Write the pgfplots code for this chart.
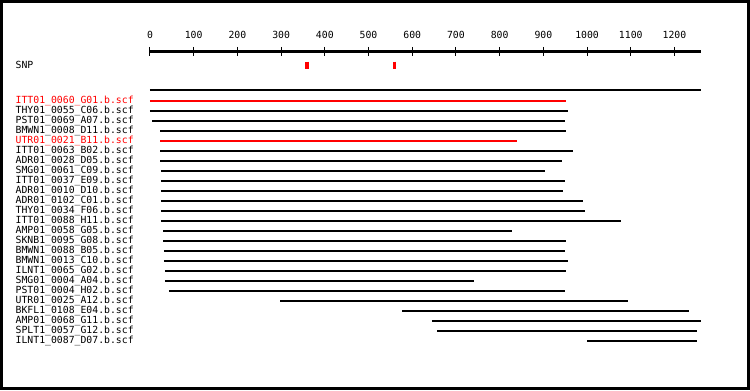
\documentclass[border=0pt]{standalone}
\usepackage{fontspec}
\setmainfont{DejaVu Sans Mono}
\usepackage{pgfplots}
\pgfplotsset{compat=1.18}
\begin{document}
\begin{tikzpicture}
\begin{axis}[
  scale only axis,
  width=550.7pt, height=336.5pt,
  xmin=0, xmax=1260,
  ymin=-388, ymax=-51.5,
  clip=false,
  axis x line*=top,
  axis y line*=left,
  x axis line style={line width=3pt,-},
  y axis line style={draw=none},
  xtick={0,100,200,300,400,500,600,700,800,900,1000,1100,1200},
  xticklabels={0,100,200,300,400,500,600,700,800,900,1000,1100,1200},
  major tick length=9pt,
  tick align=center,
  x tick style={line width=1pt,black},
  y tick style={draw=none},
  xticklabel style={anchor=base, inner sep=0pt, yshift=8.8pt},
  ytick={-66.4,-101,-111,-121,-131,-141,-151,-161,-171,-181,-191,-201,-211,-221,-231,-241,-251,-261,-271,-281,-291,-301,-311,-321,-331,-341},
  yticklabels={SNP,{\color{red}ITT01\_0060\_G01.b.scf},THY01\_0055\_C06.b.scf,PST01\_0069\_A07.b.scf,BMWN1\_0008\_D11.b.scf,{\color{red}UTR01\_0021\_B11.b.scf},ITT01\_0063\_B02.b.scf,ADR01\_0028\_D05.b.scf,SMG01\_0061\_C09.b.scf,ITT01\_0037\_E09.b.scf,ADR01\_0010\_D10.b.scf,ADR01\_0102\_C01.b.scf,THY01\_0034\_F06.b.scf,ITT01\_0088\_H11.b.scf,AMP01\_0058\_G05.b.scf,SKNB1\_0095\_G08.b.scf,BMWN1\_0088\_B05.b.scf,BMWN1\_0013\_C10.b.scf,ILNT1\_0065\_G02.b.scf,SMG01\_0004\_A04.b.scf,PST01\_0004\_H02.b.scf,UTR01\_0025\_A12.b.scf,BKFL1\_0108\_E04.b.scf,AMP01\_0068\_G11.b.scf,SPLT1\_0057\_G12.b.scf,ILNT1\_0087\_D07.b.scf},
  yticklabel style={anchor=base west, inner sep=0pt, xshift=-130pt, yshift=-2.3pt},
  ticklabel style={font=\fontsize{9.8}{11}\selectfont},
  /pgf/number format/assume math mode=true,
]
% frame
\draw[line width=2.6pt] (axis cs:-340.2,-1.3) rectangle (axis cs:1369.8,-388.7);
% SNP markers
\addplot[red, line width=4pt] coordinates {(359.4,-61.7) (359.4,-68.7)};
\addplot[red, line width=3pt] coordinates {(559.6,-61.7) (559.6,-68.7)};
% separator
\addplot[black, line width=1.2pt] coordinates {(0,-90) (1260,-90)};
% reads
\addplot[red, line width=2pt] coordinates {(0,-101) (952,-101)};
\addplot[black, line width=2pt] coordinates {(0,-111) (957,-111)};
\addplot[black, line width=2pt] coordinates {(5,-121) (950,-121)};
\addplot[black, line width=2pt] coordinates {(24,-131) (952,-131)};
\addplot[red, line width=2pt] coordinates {(24,-141) (840,-141)};
\addplot[black, line width=2pt] coordinates {(24,-151) (968,-151)};
\addplot[black, line width=2pt] coordinates {(24,-161) (943,-161)};
\addplot[black, line width=2pt] coordinates {(25,-171) (904,-171)};
\addplot[black, line width=2pt] coordinates {(25,-181) (950,-181)};
\addplot[black, line width=2pt] coordinates {(25,-191) (945,-191)};
\addplot[black, line width=2pt] coordinates {(25,-201) (991,-201)};
\addplot[black, line width=2pt] coordinates {(25,-211) (996,-211)};
\addplot[black, line width=2pt] coordinates {(25,-221) (1078,-221)};
\addplot[black, line width=2pt] coordinates {(30,-231) (829,-231)};
\addplot[black, line width=2pt] coordinates {(30,-241) (952,-241)};
\addplot[black, line width=2pt] coordinates {(32,-251) (950,-251)};
\addplot[black, line width=2pt] coordinates {(32,-261) (957,-261)};
\addplot[black, line width=2pt] coordinates {(34,-271) (952,-271)};
\addplot[black, line width=2pt] coordinates {(34,-281) (742,-281)};
\addplot[black, line width=2pt] coordinates {(43,-291) (950,-291)};
\addplot[black, line width=2pt] coordinates {(298,-301) (1094,-301)};
\addplot[black, line width=2pt] coordinates {(577,-311) (1234,-311)};
\addplot[black, line width=2pt] coordinates {(645,-321) (1261,-321)};
\addplot[black, line width=2pt] coordinates {(657,-331) (1252,-331)};
\addplot[black, line width=2pt] coordinates {(1000,-341) (1252,-341)};
\end{axis}
\end{tikzpicture}
\end{document}
